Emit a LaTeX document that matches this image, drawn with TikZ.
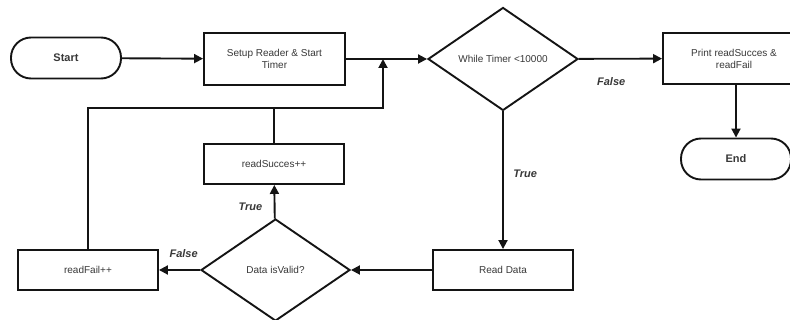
\documentclass[tikz,border=0pt]{standalone}
\usepackage{fontspec}
\setmainfont{Liberation Sans}
\usepackage{xcolor}
\usetikzlibrary{arrows.meta, positioning, shapes.geometric}
\definecolor{flowline}{rgb}{0.08,0.08,0.08}
\definecolor{flowtext}{rgb}{0.22,0.22,0.22}

\begin{document}
\begin{tikzpicture}[
  x=1pt, y=-1pt,
  procbox/.style  = {draw=flowline, line width=1.9pt, minimum width=140pt,
                     minimum height=40pt, inner sep=2pt, align=center,
                     font=\fontsize{10}{12}\selectfont, text=flowtext, fill=white},
  termbox/.style  = {procbox, rounded corners=20pt, minimum width=110pt,
                     minimum height=41pt, font=\fontsize{11}{13}\selectfont\bfseries},
  decbox/.style   = {diamond, draw=flowline, line width=1.9pt, minimum width=150pt,
                     minimum height=103pt, inner sep=0pt, align=center,
                     font=\fontsize{10}{12}\selectfont, text=flowtext, fill=white},
  arrow/.style    = {-{Triangle[length=9pt, width=9pt]}, line width=1.9pt, draw=flowline},
  plain/.style    = {line width=1.9pt, draw=flowline},
  branch/.style   = {font=\fontsize{11}{13}\selectfont\bfseries\itshape, text=flowtext},
]
\useasboundingbox (0,0) rectangle (790,320);

%% ==================== TOP ROW ====================
\node[termbox] (start) at (66,58) {Start};
\node[procbox, minimum width=141pt, minimum height=52pt] (setup) at (274.5,59)
      {Setup Reader \& Start\\Timer};
\node[decbox] (timer) at (503,59) {While Timer <10000};
\node[procbox, minimum width=142pt, minimum height=51pt] (print) at (734,58.5)
      {Print readSucces \&\\readFail};
\node[termbox] (end) at (736,159) {End};

%% ==================== LOOP BODY ====================
\node[procbox] (read) at (503,270) {Read Data};
\node[decbox, minimum width=149pt, minimum height=102pt] (valid) at (275.5,270) {Data isValid?};
\node[procbox] (succ) at (274,164) {readSucces++};
\node[procbox] (fail) at (88,270) {readFail++};

\coordinate (merge) at (383,59);
\coordinate (loop) at (383,108);

%% Arrows
\draw[arrow] (start) -- (setup);
\draw[arrow] (setup) -- (timer);
\draw[arrow] (timer) -- (print)
      node[branch, pos=0.39, below=14pt] (nofalse) {False};
\draw[arrow] (print.south -| end) -- (end);
\draw[arrow] (timer) -- (read)
      node[branch, pos=0.45, right=6pt] (yestrue) {True};
\draw[arrow] (read) -- (valid);
\draw[arrow] (valid) -- (succ)
      node[branch, pos=0.35, left=8pt] (validtrue) {True};
\draw[arrow] (valid) -- (fail)
      node[branch, pos=0.4, above=8pt] (validfalse) {False};

%% Back to the timer check
\draw[arrow] (fail.north) |- (loop) -- (merge);
\draw[plain] (succ.north) -- (succ.north |- loop);

\end{tikzpicture}
\end{document}
